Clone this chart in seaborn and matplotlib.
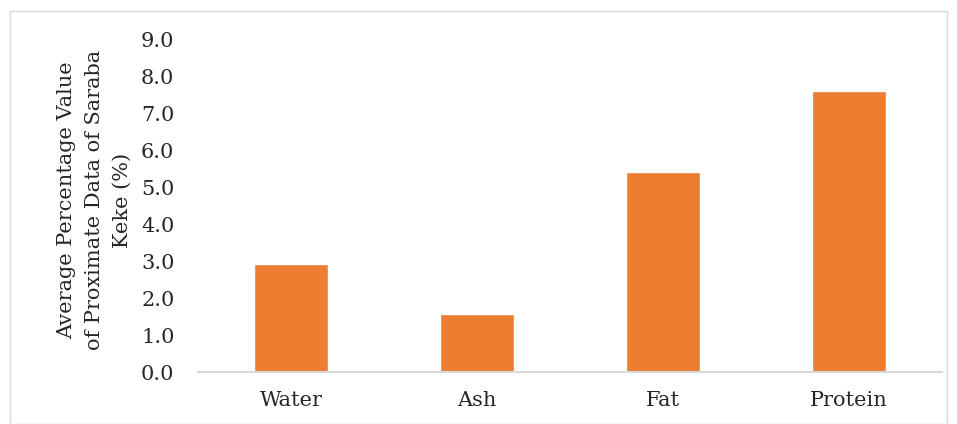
import matplotlib
matplotlib.use("Agg")
import pandas as pd
import seaborn as sns
import matplotlib.pyplot as plt
from matplotlib.patches import Rectangle

# values
components = ["Water", "Ash", "Fat", "Protein"]
avg_percent = [2.92, 1.57, 5.41, 7.63]
ytick_vals = [0, 1, 2, 3, 4, 5, 6, 7, 8, 9]

data = pd.DataFrame({"component": components, "value": avg_percent})

sns.set_style("white")
plt.rcParams["font.family"] = ["DejaVu Serif"]

fig = plt.figure(figsize=(9.57, 4.24), dpi=100)
ax = fig.add_axes([0.207, 0.1226, 0.777, 0.7831])

sns.barplot(data=data, x="component", y="value", color="#ED7D31",
            width=0.4, saturation=1, ax=ax)

ax.set_ylim(0, 9)
ax.set_yticks(ytick_vals)
ax.set_yticklabels(["%.1f" % v for v in ytick_vals], fontsize=15)
ax.tick_params(axis="x", labelsize=15, length=0, pad=14)
ax.tick_params(axis="y", length=0, pad=17)
ax.set_xlabel("")
ax.set_ylabel("")

for s in ["top", "right", "left"]:
    ax.spines[s].set_visible(False)
ax.spines["bottom"].set_color("#d9d9d9")
ax.spines["bottom"].set_linewidth(1.5)

fig.text(0.099, 0.528, "Average Percentage Value\nof Proximate Data of Saraba\nKeke (%)",
         rotation=90, ha="center", va="center", fontsize=15, linespacing=1.6)

# light border around the chart area
fig.patches.append(Rectangle((10 / 957, 0.0), 937 / 957, 1 - 11 / 424,
                             transform=fig.transFigure, fill=False,
                             edgecolor="#d9d9d9", linewidth=1))

fig.savefig("out.png", dpi=100)
